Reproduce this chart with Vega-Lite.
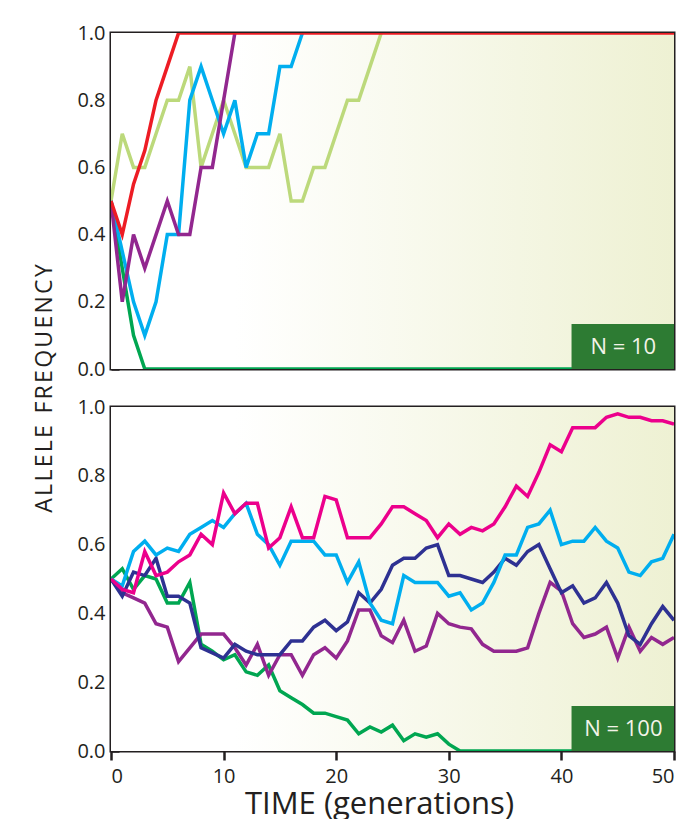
{
  "$schema": "https://vega.github.io/schema/vega-lite/v6.json",
  "background": "white",
  "padding": {"left": 31, "top": 21, "right": 5, "bottom": 5},
  "bounds": "flush",
  "spacing": 38,
  "resolve": {"scale": {"color": "independent"}},
  "config": {
    "font": "Open Sans",
    "view": {"stroke": "#231f20", "strokeWidth": 3},
    "axis": {
      "labelFont": "Open Sans",
      "labelFontSize": 20,
      "labelColor": "#231f20",
      "tickColor": "#231f20",
      "tickWidth": 2.5,
      "domain": false,
      "grid": false,
      "titleFont": "Open Sans",
      "titleColor": "#231f20",
      "titleFontWeight": "normal"
    }
  },
  "datasets": {
    "n10": [
      {"run": "green", "t": 0, "f": 0.5}, {"run": "green", "t": 1, "f": 0.3}, {"run": "green", "t": 2, "f": 0.1}, {"run": "green", "t": 3, "f": 0}, {"run": "green", "t": 4, "f": 0}, {"run": "green", "t": 5, "f": 0}, {"run": "green", "t": 6, "f": 0}, {"run": "green", "t": 7, "f": 0}, {"run": "green", "t": 8, "f": 0}, {"run": "green", "t": 9, "f": 0}, {"run": "green", "t": 10, "f": 0}, {"run": "green", "t": 11, "f": 0}, {"run": "green", "t": 12, "f": 0}, {"run": "green", "t": 13, "f": 0}, {"run": "green", "t": 14, "f": 0}, {"run": "green", "t": 15, "f": 0}, {"run": "green", "t": 16, "f": 0}, {"run": "green", "t": 17, "f": 0}, {"run": "green", "t": 18, "f": 0}, {"run": "green", "t": 19, "f": 0}, {"run": "green", "t": 20, "f": 0}, {"run": "green", "t": 21, "f": 0}, {"run": "green", "t": 22, "f": 0}, {"run": "green", "t": 23, "f": 0}, {"run": "green", "t": 24, "f": 0}, {"run": "green", "t": 25, "f": 0}, {"run": "green", "t": 26, "f": 0}, {"run": "green", "t": 27, "f": 0}, {"run": "green", "t": 28, "f": 0}, {"run": "green", "t": 29, "f": 0}, {"run": "green", "t": 30, "f": 0}, {"run": "green", "t": 31, "f": 0}, {"run": "green", "t": 32, "f": 0}, {"run": "green", "t": 33, "f": 0}, {"run": "green", "t": 34, "f": 0}, {"run": "green", "t": 35, "f": 0}, {"run": "green", "t": 36, "f": 0}, {"run": "green", "t": 37, "f": 0}, {"run": "green", "t": 38, "f": 0}, {"run": "green", "t": 39, "f": 0}, {"run": "green", "t": 40, "f": 0}, {"run": "green", "t": 41, "f": 0}, {"run": "green", "t": 42, "f": 0}, {"run": "green", "t": 43, "f": 0}, {"run": "green", "t": 44, "f": 0}, {"run": "green", "t": 45, "f": 0}, {"run": "green", "t": 46, "f": 0}, {"run": "green", "t": 47, "f": 0}, {"run": "green", "t": 48, "f": 0}, {"run": "green", "t": 49, "f": 0}, {"run": "green", "t": 50, "f": 0},
      {"run": "lime", "t": 0, "f": 0.5}, {"run": "lime", "t": 1, "f": 0.7}, {"run": "lime", "t": 2, "f": 0.6}, {"run": "lime", "t": 3, "f": 0.6}, {"run": "lime", "t": 4, "f": 0.7}, {"run": "lime", "t": 5, "f": 0.8}, {"run": "lime", "t": 6, "f": 0.8}, {"run": "lime", "t": 7, "f": 0.9}, {"run": "lime", "t": 8, "f": 0.6}, {"run": "lime", "t": 9, "f": 0.7}, {"run": "lime", "t": 10, "f": 0.8}, {"run": "lime", "t": 11, "f": 0.7}, {"run": "lime", "t": 12, "f": 0.6}, {"run": "lime", "t": 13, "f": 0.6}, {"run": "lime", "t": 14, "f": 0.6}, {"run": "lime", "t": 15, "f": 0.7}, {"run": "lime", "t": 16, "f": 0.5}, {"run": "lime", "t": 17, "f": 0.5}, {"run": "lime", "t": 18, "f": 0.6}, {"run": "lime", "t": 19, "f": 0.6}, {"run": "lime", "t": 20, "f": 0.7}, {"run": "lime", "t": 21, "f": 0.8}, {"run": "lime", "t": 22, "f": 0.8}, {"run": "lime", "t": 23, "f": 0.9}, {"run": "lime", "t": 24, "f": 1.0},
      {"run": "sky", "t": 0, "f": 0.5}, {"run": "sky", "t": 1, "f": 0.35}, {"run": "sky", "t": 2, "f": 0.2}, {"run": "sky", "t": 3, "f": 0.1}, {"run": "sky", "t": 4, "f": 0.2}, {"run": "sky", "t": 5, "f": 0.4}, {"run": "sky", "t": 6, "f": 0.4}, {"run": "sky", "t": 7, "f": 0.8}, {"run": "sky", "t": 8, "f": 0.9}, {"run": "sky", "t": 9, "f": 0.8}, {"run": "sky", "t": 10, "f": 0.7}, {"run": "sky", "t": 11, "f": 0.8}, {"run": "sky", "t": 12, "f": 0.6}, {"run": "sky", "t": 13, "f": 0.7}, {"run": "sky", "t": 14, "f": 0.7}, {"run": "sky", "t": 15, "f": 0.9}, {"run": "sky", "t": 16, "f": 0.9}, {"run": "sky", "t": 17, "f": 1.0},
      {"run": "plum", "t": 0, "f": 0.5}, {"run": "plum", "t": 1, "f": 0.2}, {"run": "plum", "t": 2, "f": 0.4}, {"run": "plum", "t": 3, "f": 0.3}, {"run": "plum", "t": 4, "f": 0.4}, {"run": "plum", "t": 5, "f": 0.5}, {"run": "plum", "t": 6, "f": 0.4}, {"run": "plum", "t": 7, "f": 0.4}, {"run": "plum", "t": 8, "f": 0.6}, {"run": "plum", "t": 9, "f": 0.6}, {"run": "plum", "t": 10, "f": 0.8}, {"run": "plum", "t": 11, "f": 1.0},
      {"run": "red", "t": 0, "f": 0.5}, {"run": "red", "t": 1, "f": 0.4}, {"run": "red", "t": 2, "f": 0.55}, {"run": "red", "t": 3, "f": 0.65}, {"run": "red", "t": 4, "f": 0.8}, {"run": "red", "t": 5, "f": 0.9}, {"run": "red", "t": 6, "f": 1.0}, {"run": "red", "t": 7, "f": 1.0}, {"run": "red", "t": 8, "f": 1.0}, {"run": "red", "t": 9, "f": 1.0}, {"run": "red", "t": 10, "f": 1.0}, {"run": "red", "t": 11, "f": 1.0}, {"run": "red", "t": 12, "f": 1.0}, {"run": "red", "t": 13, "f": 1.0}, {"run": "red", "t": 14, "f": 1.0}, {"run": "red", "t": 15, "f": 1.0}, {"run": "red", "t": 16, "f": 1.0}, {"run": "red", "t": 17, "f": 1.0}, {"run": "red", "t": 18, "f": 1.0}, {"run": "red", "t": 19, "f": 1.0}, {"run": "red", "t": 20, "f": 1.0}, {"run": "red", "t": 21, "f": 1.0}, {"run": "red", "t": 22, "f": 1.0}, {"run": "red", "t": 23, "f": 1.0}, {"run": "red", "t": 24, "f": 1.0}, {"run": "red", "t": 25, "f": 1.0}, {"run": "red", "t": 26, "f": 1.0}, {"run": "red", "t": 27, "f": 1.0}, {"run": "red", "t": 28, "f": 1.0}, {"run": "red", "t": 29, "f": 1.0}, {"run": "red", "t": 30, "f": 1.0}, {"run": "red", "t": 31, "f": 1.0}, {"run": "red", "t": 32, "f": 1.0}, {"run": "red", "t": 33, "f": 1.0}, {"run": "red", "t": 34, "f": 1.0}, {"run": "red", "t": 35, "f": 1.0}, {"run": "red", "t": 36, "f": 1.0}, {"run": "red", "t": 37, "f": 1.0}, {"run": "red", "t": 38, "f": 1.0}, {"run": "red", "t": 39, "f": 1.0}, {"run": "red", "t": 40, "f": 1.0}, {"run": "red", "t": 41, "f": 1.0}, {"run": "red", "t": 42, "f": 1.0}, {"run": "red", "t": 43, "f": 1.0}, {"run": "red", "t": 44, "f": 1.0}, {"run": "red", "t": 45, "f": 1.0}, {"run": "red", "t": 46, "f": 1.0}, {"run": "red", "t": 47, "f": 1.0}, {"run": "red", "t": 48, "f": 1.0}, {"run": "red", "t": 49, "f": 1.0}, {"run": "red", "t": 50, "f": 1.0}
    ],
    "n100": [
      {"run": "green", "t": 0, "f": 0.5}, {"run": "green", "t": 1, "f": 0.53}, {"run": "green", "t": 2, "f": 0.47}, {"run": "green", "t": 3, "f": 0.51}, {"run": "green", "t": 4, "f": 0.5}, {"run": "green", "t": 5, "f": 0.43}, {"run": "green", "t": 6, "f": 0.43}, {"run": "green", "t": 7, "f": 0.49}, {"run": "green", "t": 8, "f": 0.31}, {"run": "green", "t": 9, "f": 0.29}, {"run": "green", "t": 10, "f": 0.265}, {"run": "green", "t": 11, "f": 0.28}, {"run": "green", "t": 12, "f": 0.23}, {"run": "green", "t": 13, "f": 0.22}, {"run": "green", "t": 14, "f": 0.25}, {"run": "green", "t": 15, "f": 0.175}, {"run": "green", "t": 16, "f": 0.155}, {"run": "green", "t": 17, "f": 0.135}, {"run": "green", "t": 18, "f": 0.11}, {"run": "green", "t": 19, "f": 0.11}, {"run": "green", "t": 20, "f": 0.1}, {"run": "green", "t": 21, "f": 0.09}, {"run": "green", "t": 22, "f": 0.05}, {"run": "green", "t": 23, "f": 0.07}, {"run": "green", "t": 24, "f": 0.055}, {"run": "green", "t": 25, "f": 0.075}, {"run": "green", "t": 26, "f": 0.03}, {"run": "green", "t": 27, "f": 0.05}, {"run": "green", "t": 28, "f": 0.04}, {"run": "green", "t": 29, "f": 0.05}, {"run": "green", "t": 30, "f": 0.02}, {"run": "green", "t": 31, "f": 0}, {"run": "green", "t": 32, "f": 0}, {"run": "green", "t": 33, "f": 0}, {"run": "green", "t": 34, "f": 0}, {"run": "green", "t": 35, "f": 0}, {"run": "green", "t": 36, "f": 0}, {"run": "green", "t": 37, "f": 0}, {"run": "green", "t": 38, "f": 0}, {"run": "green", "t": 39, "f": 0}, {"run": "green", "t": 40, "f": 0}, {"run": "green", "t": 41, "f": 0}, {"run": "green", "t": 42, "f": 0}, {"run": "green", "t": 43, "f": 0}, {"run": "green", "t": 44, "f": 0}, {"run": "green", "t": 45, "f": 0}, {"run": "green", "t": 46, "f": 0}, {"run": "green", "t": 47, "f": 0}, {"run": "green", "t": 48, "f": 0}, {"run": "green", "t": 49, "f": 0}, {"run": "green", "t": 50, "f": 0},
      {"run": "plum", "t": 0, "f": 0.5}, {"run": "plum", "t": 1, "f": 0.46}, {"run": "plum", "t": 2, "f": 0.445}, {"run": "plum", "t": 3, "f": 0.43}, {"run": "plum", "t": 4, "f": 0.37}, {"run": "plum", "t": 5, "f": 0.36}, {"run": "plum", "t": 6, "f": 0.26}, {"run": "plum", "t": 7, "f": 0.3}, {"run": "plum", "t": 8, "f": 0.34}, {"run": "plum", "t": 9, "f": 0.34}, {"run": "plum", "t": 10, "f": 0.34}, {"run": "plum", "t": 11, "f": 0.3}, {"run": "plum", "t": 12, "f": 0.25}, {"run": "plum", "t": 13, "f": 0.31}, {"run": "plum", "t": 14, "f": 0.22}, {"run": "plum", "t": 15, "f": 0.28}, {"run": "plum", "t": 16, "f": 0.28}, {"run": "plum", "t": 17, "f": 0.22}, {"run": "plum", "t": 18, "f": 0.28}, {"run": "plum", "t": 19, "f": 0.3}, {"run": "plum", "t": 20, "f": 0.27}, {"run": "plum", "t": 21, "f": 0.32}, {"run": "plum", "t": 22, "f": 0.41}, {"run": "plum", "t": 23, "f": 0.41}, {"run": "plum", "t": 24, "f": 0.335}, {"run": "plum", "t": 25, "f": 0.315}, {"run": "plum", "t": 26, "f": 0.38}, {"run": "plum", "t": 27, "f": 0.29}, {"run": "plum", "t": 28, "f": 0.305}, {"run": "plum", "t": 29, "f": 0.4}, {"run": "plum", "t": 30, "f": 0.37}, {"run": "plum", "t": 31, "f": 0.36}, {"run": "plum", "t": 32, "f": 0.355}, {"run": "plum", "t": 33, "f": 0.31}, {"run": "plum", "t": 34, "f": 0.29}, {"run": "plum", "t": 35, "f": 0.29}, {"run": "plum", "t": 36, "f": 0.29}, {"run": "plum", "t": 37, "f": 0.3}, {"run": "plum", "t": 38, "f": 0.4}, {"run": "plum", "t": 39, "f": 0.49}, {"run": "plum", "t": 40, "f": 0.465}, {"run": "plum", "t": 41, "f": 0.37}, {"run": "plum", "t": 42, "f": 0.33}, {"run": "plum", "t": 43, "f": 0.34}, {"run": "plum", "t": 44, "f": 0.36}, {"run": "plum", "t": 45, "f": 0.27}, {"run": "plum", "t": 46, "f": 0.36}, {"run": "plum", "t": 47, "f": 0.29}, {"run": "plum", "t": 48, "f": 0.33}, {"run": "plum", "t": 49, "f": 0.31}, {"run": "plum", "t": 50, "f": 0.33},
      {"run": "navy", "t": 0, "f": 0.5}, {"run": "navy", "t": 1, "f": 0.45}, {"run": "navy", "t": 2, "f": 0.52}, {"run": "navy", "t": 3, "f": 0.51}, {"run": "navy", "t": 4, "f": 0.56}, {"run": "navy", "t": 5, "f": 0.45}, {"run": "navy", "t": 6, "f": 0.45}, {"run": "navy", "t": 7, "f": 0.43}, {"run": "navy", "t": 8, "f": 0.3}, {"run": "navy", "t": 9, "f": 0.285}, {"run": "navy", "t": 10, "f": 0.27}, {"run": "navy", "t": 11, "f": 0.31}, {"run": "navy", "t": 12, "f": 0.29}, {"run": "navy", "t": 13, "f": 0.28}, {"run": "navy", "t": 14, "f": 0.28}, {"run": "navy", "t": 15, "f": 0.28}, {"run": "navy", "t": 16, "f": 0.32}, {"run": "navy", "t": 17, "f": 0.32}, {"run": "navy", "t": 18, "f": 0.36}, {"run": "navy", "t": 19, "f": 0.38}, {"run": "navy", "t": 20, "f": 0.35}, {"run": "navy", "t": 21, "f": 0.375}, {"run": "navy", "t": 22, "f": 0.46}, {"run": "navy", "t": 23, "f": 0.43}, {"run": "navy", "t": 24, "f": 0.47}, {"run": "navy", "t": 25, "f": 0.54}, {"run": "navy", "t": 26, "f": 0.56}, {"run": "navy", "t": 27, "f": 0.56}, {"run": "navy", "t": 28, "f": 0.59}, {"run": "navy", "t": 29, "f": 0.6}, {"run": "navy", "t": 30, "f": 0.51}, {"run": "navy", "t": 31, "f": 0.51}, {"run": "navy", "t": 32, "f": 0.5}, {"run": "navy", "t": 33, "f": 0.49}, {"run": "navy", "t": 34, "f": 0.52}, {"run": "navy", "t": 35, "f": 0.56}, {"run": "navy", "t": 36, "f": 0.54}, {"run": "navy", "t": 37, "f": 0.58}, {"run": "navy", "t": 38, "f": 0.6}, {"run": "navy", "t": 39, "f": 0.53}, {"run": "navy", "t": 40, "f": 0.46}, {"run": "navy", "t": 41, "f": 0.48}, {"run": "navy", "t": 42, "f": 0.43}, {"run": "navy", "t": 43, "f": 0.445}, {"run": "navy", "t": 44, "f": 0.49}, {"run": "navy", "t": 45, "f": 0.43}, {"run": "navy", "t": 46, "f": 0.335}, {"run": "navy", "t": 47, "f": 0.31}, {"run": "navy", "t": 48, "f": 0.37}, {"run": "navy", "t": 49, "f": 0.42}, {"run": "navy", "t": 50, "f": 0.38},
      {"run": "sky", "t": 0, "f": 0.5}, {"run": "sky", "t": 1, "f": 0.48}, {"run": "sky", "t": 2, "f": 0.58}, {"run": "sky", "t": 3, "f": 0.61}, {"run": "sky", "t": 4, "f": 0.57}, {"run": "sky", "t": 5, "f": 0.59}, {"run": "sky", "t": 6, "f": 0.58}, {"run": "sky", "t": 7, "f": 0.63}, {"run": "sky", "t": 8, "f": 0.65}, {"run": "sky", "t": 9, "f": 0.67}, {"run": "sky", "t": 10, "f": 0.65}, {"run": "sky", "t": 11, "f": 0.69}, {"run": "sky", "t": 12, "f": 0.72}, {"run": "sky", "t": 13, "f": 0.63}, {"run": "sky", "t": 14, "f": 0.6}, {"run": "sky", "t": 15, "f": 0.54}, {"run": "sky", "t": 16, "f": 0.61}, {"run": "sky", "t": 17, "f": 0.61}, {"run": "sky", "t": 18, "f": 0.61}, {"run": "sky", "t": 19, "f": 0.57}, {"run": "sky", "t": 20, "f": 0.57}, {"run": "sky", "t": 21, "f": 0.49}, {"run": "sky", "t": 22, "f": 0.55}, {"run": "sky", "t": 23, "f": 0.43}, {"run": "sky", "t": 24, "f": 0.38}, {"run": "sky", "t": 25, "f": 0.37}, {"run": "sky", "t": 26, "f": 0.51}, {"run": "sky", "t": 27, "f": 0.49}, {"run": "sky", "t": 28, "f": 0.49}, {"run": "sky", "t": 29, "f": 0.49}, {"run": "sky", "t": 30, "f": 0.45}, {"run": "sky", "t": 31, "f": 0.46}, {"run": "sky", "t": 32, "f": 0.41}, {"run": "sky", "t": 33, "f": 0.43}, {"run": "sky", "t": 34, "f": 0.49}, {"run": "sky", "t": 35, "f": 0.57}, {"run": "sky", "t": 36, "f": 0.57}, {"run": "sky", "t": 37, "f": 0.65}, {"run": "sky", "t": 38, "f": 0.66}, {"run": "sky", "t": 39, "f": 0.7}, {"run": "sky", "t": 40, "f": 0.6}, {"run": "sky", "t": 41, "f": 0.61}, {"run": "sky", "t": 42, "f": 0.61}, {"run": "sky", "t": 43, "f": 0.65}, {"run": "sky", "t": 44, "f": 0.61}, {"run": "sky", "t": 45, "f": 0.59}, {"run": "sky", "t": 46, "f": 0.52}, {"run": "sky", "t": 47, "f": 0.51}, {"run": "sky", "t": 48, "f": 0.55}, {"run": "sky", "t": 49, "f": 0.56}, {"run": "sky", "t": 50, "f": 0.63},
      {"run": "pink", "t": 0, "f": 0.5}, {"run": "pink", "t": 1, "f": 0.47}, {"run": "pink", "t": 2, "f": 0.46}, {"run": "pink", "t": 3, "f": 0.58}, {"run": "pink", "t": 4, "f": 0.51}, {"run": "pink", "t": 5, "f": 0.52}, {"run": "pink", "t": 6, "f": 0.55}, {"run": "pink", "t": 7, "f": 0.57}, {"run": "pink", "t": 8, "f": 0.63}, {"run": "pink", "t": 9, "f": 0.6}, {"run": "pink", "t": 10, "f": 0.75}, {"run": "pink", "t": 11, "f": 0.69}, {"run": "pink", "t": 12, "f": 0.72}, {"run": "pink", "t": 13, "f": 0.72}, {"run": "pink", "t": 14, "f": 0.59}, {"run": "pink", "t": 15, "f": 0.62}, {"run": "pink", "t": 16, "f": 0.71}, {"run": "pink", "t": 17, "f": 0.62}, {"run": "pink", "t": 18, "f": 0.62}, {"run": "pink", "t": 19, "f": 0.74}, {"run": "pink", "t": 20, "f": 0.73}, {"run": "pink", "t": 21, "f": 0.62}, {"run": "pink", "t": 22, "f": 0.62}, {"run": "pink", "t": 23, "f": 0.62}, {"run": "pink", "t": 24, "f": 0.66}, {"run": "pink", "t": 25, "f": 0.71}, {"run": "pink", "t": 26, "f": 0.71}, {"run": "pink", "t": 27, "f": 0.69}, {"run": "pink", "t": 28, "f": 0.67}, {"run": "pink", "t": 29, "f": 0.62}, {"run": "pink", "t": 30, "f": 0.66}, {"run": "pink", "t": 31, "f": 0.63}, {"run": "pink", "t": 32, "f": 0.65}, {"run": "pink", "t": 33, "f": 0.64}, {"run": "pink", "t": 34, "f": 0.66}, {"run": "pink", "t": 35, "f": 0.71}, {"run": "pink", "t": 36, "f": 0.77}, {"run": "pink", "t": 37, "f": 0.74}, {"run": "pink", "t": 38, "f": 0.81}, {"run": "pink", "t": 39, "f": 0.89}, {"run": "pink", "t": 40, "f": 0.87}, {"run": "pink", "t": 41, "f": 0.94}, {"run": "pink", "t": 42, "f": 0.94}, {"run": "pink", "t": 43, "f": 0.94}, {"run": "pink", "t": 44, "f": 0.97}, {"run": "pink", "t": 45, "f": 0.98}, {"run": "pink", "t": 46, "f": 0.97}, {"run": "pink", "t": 47, "f": 0.97}, {"run": "pink", "t": 48, "f": 0.96}, {"run": "pink", "t": 49, "f": 0.96}, {"run": "pink", "t": 50, "f": 0.95}
    ]
  },
  "vconcat": [
    {
      "width": 563,
      "height": 336,
      "layer": [
        {
          "data": {"values": [{}]},
          "mark": {"type": "rect", "color": {"gradient": "linear", "x1": 0, "y1": 0, "x2": 1, "y2": 0, "stops": [{"offset": 0, "color": "#ffffff"}, {"offset": 0.22, "color": "#ffffff"}, {"offset": 1, "color": "#eef1d3"}]}},
          "encoding": {
            "x": {"datum": 0, "type": "quantitative", "scale": {"domain": [0, 50], "nice": false}, "axis": null},
            "x2": {"datum": 50},
            "y": {"datum": 0, "type": "quantitative", "scale": {"domain": [0, 1], "nice": false}},
            "y2": {"datum": 1}
          }
        },
        {
          "data": {"name": "n10"},
          "mark": {"type": "line", "strokeWidth": 3.5, "clip": true},
          "encoding": {
            "x": {"field": "t", "type": "quantitative", "axis": null},
            "y": {"field": "f", "type": "quantitative", "axis": {"values": [0, 0.2, 0.4, 0.6, 0.8, 1], "format": ".1f", "tickSize": -8, "labelPadding": 14, "title": "A\u200aL\u200aL\u200aE\u200aL\u200aE\u2002F\u200aR\u200aE\u200aQ\u200aU\u200aE\u200aN\u200aC\u200aY", "titleFontSize": 23, "titleAngle": 270, "titleX": -60, "titleY": 355, "titleAlign": "center", "titleBaseline": "alphabetic"}},
            "color": {"field": "run", "type": "nominal", "legend": null, "scale": {"domain": ["green", "lime", "sky", "plum", "red"], "range": ["#00a651", "#bcd97b", "#00aeef", "#92278f", "#ed1c24"]}}
          }
        },
        {
          "data": {"values": [{}]},
          "mark": {"type": "rect", "color": "#2d7b33"},
          "encoding": {
            "x": {"datum": 40.9, "type": "quantitative", "axis": null},
            "x2": {"datum": 50},
            "y": {"datum": 0, "type": "quantitative"},
            "y2": {"datum": 0.134}
          }
        },
        {
          "data": {"values": [{}]},
          "mark": {"type": "text", "fontSize": 22, "color": "#f3f3e8", "align": "center", "baseline": "middle"},
          "encoding": {
            "x": {"datum": 45.5, "type": "quantitative", "axis": null},
            "y": {"datum": 0.066, "type": "quantitative"},
            "text": {"value": "N = 10"}
          }
        }
      ]
    },
    {
      "width": 563,
      "height": 344,
      "layer": [
        {
          "data": {"values": [{}]},
          "mark": {"type": "rect", "color": {"gradient": "linear", "x1": 0, "y1": 0, "x2": 1, "y2": 0, "stops": [{"offset": 0, "color": "#ffffff"}, {"offset": 0.22, "color": "#ffffff"}, {"offset": 1, "color": "#eef1d3"}]}},
          "encoding": {
            "x": {"datum": 0, "type": "quantitative", "scale": {"domain": [0, 50], "nice": false}},
            "x2": {"datum": 50},
            "y": {"datum": 0, "type": "quantitative", "scale": {"domain": [0, 1], "nice": false}},
            "y2": {"datum": 1}
          }
        },
        {
          "data": {"name": "n100"},
          "mark": {"type": "line", "strokeWidth": 3.5, "clip": true},
          "encoding": {
            "x": {"field": "t", "type": "quantitative", "axis": {"values": [0, 10, 20, 30, 40, 50], "tickSize": 9, "labelPadding": 6, "title": "TIME (generations)", "titleFontSize": 31, "titlePadding": 3, "titleX": 268, "titleAlign": "center"}},
            "y": {"field": "f", "type": "quantitative", "axis": {"values": [0, 0.2, 0.4, 0.6, 0.8, 1], "format": ".1f", "tickSize": -8, "labelPadding": 14, "title": null}},
            "color": {"field": "run", "type": "nominal", "legend": null, "scale": {"domain": ["green", "plum", "navy", "sky", "pink"], "range": ["#00a651", "#92278f", "#2e3192", "#00aeef", "#ec008c"]}}
          }
        },
        {
          "data": {"values": [{}]},
          "mark": {"type": "rect", "color": "#2d7b33"},
          "encoding": {
            "x": {"datum": 40.9, "type": "quantitative"},
            "x2": {"datum": 50},
            "y": {"datum": 0, "type": "quantitative"},
            "y2": {"datum": 0.131}
          }
        },
        {
          "data": {"values": [{}]},
          "mark": {"type": "text", "fontSize": 22, "color": "#f3f3e8", "align": "center", "baseline": "middle"},
          "encoding": {
            "x": {"datum": 45.5, "type": "quantitative"},
            "y": {"datum": 0.064, "type": "quantitative"},
            "text": {"value": "N = 100"}
          }
        }
      ]
    }
  ]
}
